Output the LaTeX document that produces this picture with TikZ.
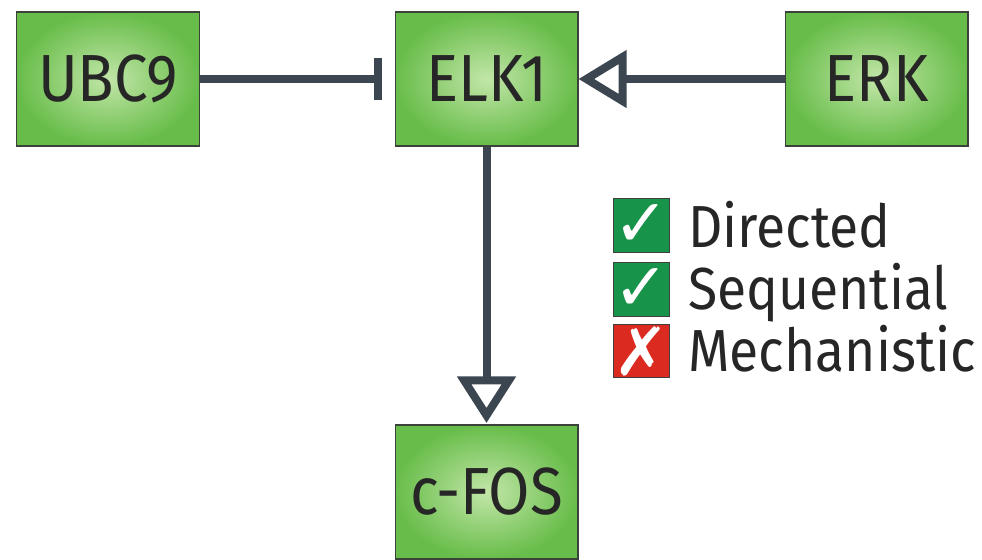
\documentclass[tikz,border=0pt]{standalone}
\usepackage{fontspec}
\setmainfont{Fira Sans}[FakeStretch=0.9]
\newfontfamily\symfont{DejaVu Sans}
\usetikzlibrary{arrows.meta}
\definecolor{linec}{HTML}{3B4650}
\definecolor{boxline}{HTML}{3A423A}
\definecolor{ginner}{HTML}{C2E6A8}
\definecolor{gouter}{HTML}{68BD4A}
\definecolor{ckgreen}{HTML}{17944A}
\definecolor{ckred}{HTML}{DB2A1F}
\tikzset{
  gene/.style={draw=boxline, line width=1pt, shading=radial, inner color=ginner, outer color=gouter,
    minimum width=137pt, minimum height=100.5pt, inner sep=0pt, text=black!85,
    font=\fontsize{50}{56}\selectfont},
  link/.style={draw=linec, line width=6pt},
  ckbox/.style={draw=black!75, line width=0.8pt, minimum width=39.5pt, minimum height=40pt, inner sep=0pt,
    text=white, font=\symfont\fontsize{50}{54}\selectfont},
  legtext/.style={anchor=base west, inner sep=0pt, text=black!85, font=\fontsize{44.5}{50}\selectfont}
}
\begin{document}
\begin{tikzpicture}[x=0.75pt,y=-0.75pt]
\useasboundingbox (0,0) rectangle (982,560);
\node[gene] (ubc9) at (108,79) {UBC9};
\node[gene] (elk1) at (486.5,79) {ELK1};
\node[gene] (erk)  at (876.5,79) {ERK};
\node[gene] (cfos) at (486.5,492) {c-FOS};
\draw[link, -{Bar[width=32pt]}, shorten >=9.5pt] (ubc9) -- (elk1);
\draw[link, -{Triangle[open, length=36pt, width=42pt]}, shorten >=0pt] (erk) -- (elk1);
\draw[link, -{Triangle[open, length=35pt, width=43pt]}, shorten >=1pt] (elk1) -- (cfos);
\node[ckbox, fill=ckgreen] (c1) at (641.5,225.5) {✓};
\node[ckbox, fill=ckgreen] (c2) at (641.5,289.5) {✓};
\node[ckbox, fill=ckred]   (c3) at (641.5,351) {✗};
\node[legtext] (t1) at (688,247) {Directed};
\node[legtext] (t2) at (688,309) {Sequential};
\node[legtext] (t3) at (688,371) {Mechanistic};
\end{tikzpicture}
\end{document}
